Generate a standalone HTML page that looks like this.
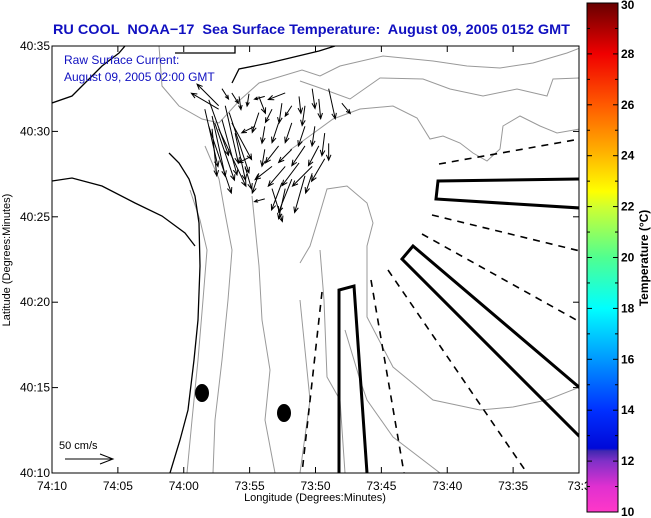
<!DOCTYPE html>
<html><head><meta charset="utf-8"><style>
html,body{margin:0;padding:0;background:#fff;}
svg{display:block;font-family:"Liberation Sans",Arial,sans-serif;}
</style></head><body>
<svg id="chart" width="651" height="518" viewBox="0 0 651 518" xmlns="http://www.w3.org/2000/svg">
<defs>
<linearGradient id="cb" x1="0" y1="1" x2="0" y2="0">
<stop offset="0" stop-color="#ff38c8"/><stop offset="0.05" stop-color="#e030d0"/><stop offset="0.1" stop-color="#8030c8"/><stop offset="0.12" stop-color="#4028b0"/><stop offset="0.125" stop-color="#0008d8"/>
<stop offset="0.2" stop-color="#0030ff"/><stop offset="0.3" stop-color="#0098ff"/><stop offset="0.4" stop-color="#00ffff"/><stop offset="0.5" stop-color="#50ff90"/>
<stop offset="0.6" stop-color="#d0ff30"/><stop offset="0.63" stop-color="#ffff00"/><stop offset="0.7" stop-color="#ffb800"/><stop offset="0.8" stop-color="#ff5a00"/>
<stop offset="0.9" stop-color="#f00000"/><stop offset="1" stop-color="#680000"/>
</linearGradient>
<clipPath id="pc"><rect x="52" y="46" width="527" height="427"/></clipPath>
</defs>
<text x="53" y="34" textLength="517" lengthAdjust="spacingAndGlyphs" font-size="14" font-weight="bold" fill="#1010c0" style="white-space:pre">RU COOL  NOAA−17  Sea Surface Temperature:  August 09, 2005 0152 GMT</text>
<g id="map" clip-path="url(#pc)">
<g fill="none" stroke="#999" stroke-width="1">
<path d="M159,46 L162,86 L179,106 L202,119 L219,123 L240,100 L259,83 L302,70 L320,76 L340,66 L383,56 L433,61 L467,66 L500,68 L533,63 L567,53 L580,48"/>
<path d="M300,81 L320,88 L350,99 L380,78 L423,79 L450,89 L483,96 L517,89 L547,96 L553,79 L580,78"/>
<path d="M290,150 L300,143 L333,119 L360,109 L393,106 L417,118 L430,139 L443,136 L460,143 L473,153 L487,161 L500,149 L503,126 L520,116 L540,126 L557,133 L580,129"/>
<path d="M300,263 L310,246 L317,223 L327,189 L347,186 L367,203 L373,223 L367,246 L367,317 L393,367 L433,400 L480,410 L513,407 L547,400 L580,387"/>
<path d="M320,250 L324,300 L327,377 L340,400 L345,473"/>
<path d="M345,330 L360,380 L367,400 L393,437 L440,473"/>
<path d="M205,146 L219,179 L225,213 L232,250 L228,300 L222,360 L215,420 L213,473"/>
<path d="M190,190 L200,220 L207,250 L203,300 L198,360 L192,420 L187,473"/>
<path d="M252,196 L259,266 L262,320 L270,370 L265,420 L275,473"/>
<path d="M300,300 L305,350 L310,400 L300,473"/>
</g>
<g fill="none" stroke="#000" stroke-width="1.3">
<path d="M52,103 L72,96 L85,83 L102,66 L119,53 L125,46"/>
<path d="M52,181 L72,178 L102,186 L135,203 L162,216 L185,233 L195,246"/>
<path d="M169,153 L179,163 L189,179 L195,196 L199,223 L200,266 L198,320 L194,360 L188,410 L180,440 L170,473"/>
<path d="M232,83 L239,69 L269,63 L319,51 L335,46"/>
<path d="M175,53 L235,53 L235,46"/>
</g>
<g fill="none" stroke="#000" stroke-width="3">
<path d="M339,473 L339,290 L354,286 L367,473"/>
<path d="M580,179 L438,181 L436,199 L580,208"/>
<path d="M580,388 L413,246 L402,259 L580,437"/>
</g>
<g fill="none" stroke="#000" stroke-width="1.6" stroke-dasharray="7,6">
<path d="M439,164 L580,139"/><path d="M432,215 L580,251"/><path d="M422,234 L580,322"/>
<path d="M388,270 L527,473"/><path d="M371,280 L404,473"/><path d="M322,292 L302,473"/>
</g>
<ellipse cx="202" cy="393" rx="7" ry="9"/>
<ellipse cx="284" cy="413" rx="7" ry="9"/>
<g id="arrows" stroke="#000" stroke-width="1" fill="none"></g>
<text x="64" y="64" font-size="12" fill="#1010c0">Raw Surface Current:</text>
<text x="64" y="81" font-size="12" fill="#1010c0">August 09, 2005 02:00 GMT</text>
<text x="59" y="449" font-size="11">50 cm/s</text>
<g stroke="#000" fill="none"><path d="M65,459 L113,459 M100,454 L113,459 L100,464"/></g>
</g>
<rect x="52" y="46" width="527" height="427" fill="none" stroke="#000" stroke-width="1"/>
<g id="axes" font-size="12"></g>
<text x="315" y="501" text-anchor="middle" font-size="11">Longitude (Degrees:Minutes)</text>
<text transform="translate(10,260) rotate(-90)" text-anchor="middle" font-size="11">Latitude (Degrees:Minutes)</text>
<rect x="587" y="3" width="31" height="509" fill="url(#cb)" stroke="#000" stroke-width="1"/>
<g id="cbaxis" font-size="12" font-weight="bold"></g>
<text transform="translate(648,258) rotate(-90)" text-anchor="middle" font-size="12" font-weight="bold">Temperature (°C)</text>
</svg>
<script>
// current vectors: longitude in minutes west of 74°00' (negative = east), latitude in minutes north of 40°00', u/v in cm/s
const vecLonMin=[-2.65,-2.65,-1.6,-2.15,-2.35,-2.65,-3.15,-3.45,-2.15,-3.65,-3.9,-2.9,-3.65,-4.2,-4.95,-5.7,-6.15,-7.7,-8.75,-9.75,-11,-12,-5.7,-6.7,-7.45,-8.2,-9.2,-10.25,-6.15,-7.2,-8.2,-9.2,-9.95,-10.7,-5.4,-6.15,-7.2,-8.2,-9.2,-10.25,-11,-5.15,-6.7,-7.7,-8.75,-9.75,-10.7,-5.7,-7.45,-8.2,-9.2,-9.75,-6.7,-7.7,-6.15,-4.65,-1.9,-2.9,-1.9];
const vecLatMin=[31.3,31.5,31.3,30.9,30.5,30.15,31.5,31.1,30.15,30.5,29.9,32.5,32.25,32.05,32.2,32.05,32.05,32.25,32.05,32.5,32.5,31.65,31.1,31.3,31.65,31.5,31.5,31.9,30.3,30.5,30.5,30.3,30.3,29.9,30.3,28.95,29.15,28.95,29.15,29.15,29.3,28.55,27.95,27.95,28.15,27.95,28.4,27.55,27,27.2,27.4,27.55,26.65,26.65,26.05,27.95,30.3,30.7,31.85];
const vecU=[-29,-23,14,14,21,29,14,21,5,21,11,7,7,2,-2,7,-11,-18,2,3,7,9,-7,-7,-3,-7,-3,2,-3,-7,-7,-7,-3,-3,-14,-3,-14,-14,-14,-11,0,-14,-18,-18,-18,-21,-14,-7,-11,-14,-11,-7,11,-7,-11,7,24,16,21];
const vecV=[17,23,-61,-64,-61,-61,-61,-64,-50,-39,-50,-11,-11,-14,-13,-18,-3,-7,-18,-21,-32,-11,-21,-14,-21,-11,-21,-21,-18,-21,-21,-21,-21,-24,-7,-18,-18,-14,-21,-21,-18,-7,-14,-21,-24,-21,-24,-21,-29,-35,-39,-21,-35,-32,-3,-24,-71,-59,-59];
const lonTicks=[10,5,0,-5,-10,-15,-20,-25,-30];
const lonTickLabels=["74:10","74:05","74:00","73:55","73:50","73:45","73:40","73:35","73:3"];
const latTicks=[35,30,25,20,15,10];
const latTickLabels=["40:35","40:30","40:25","40:20","40:15","40:10"];
const cbTicks=[10,12,14,16,18,20,22,24,26,28,30];

const NS='http://www.w3.org/2000/svg';
const X0=52,X1=579,Y0=46,Y1=473;
function xOf(minW){return X0+(10-minW)/40*(X1-X0);}
function yOf(latMin){return Y1-(latMin-10)/25*(Y1-Y0);}
const pxPerCm=47/50;
function cbY(t){return 512-(t-10)/20*509;}
function mk(tag,attrs,parent){const e=document.createElementNS(NS,tag);for(const k in attrs)e.setAttribute(k,attrs[k]);parent.appendChild(e);return e;}

const ag=document.getElementById('arrows');
for(let i=0;i<vecLonMin.length;i++){
  const x=xOf(vecLonMin[i]),y=yOf(vecLatMin[i]);
  const dx=vecU[i]*pxPerCm,dy=-vecV[i]*pxPerCm;
  const L=Math.hypot(dx,dy)||1,a=Math.atan2(dy,dx),h=Math.min(6,L*0.35);
  const x2=x+dx,y2=y+dy;
  const d=`M${x},${y} L${x2},${y2} M${x2-h*Math.cos(a-0.4)},${y2-h*Math.sin(a-0.4)} L${x2},${y2} L${x2-h*Math.cos(a+0.4)},${y2-h*Math.sin(a+0.4)}`;
  const p=mk('path',{d:d},ag);
  
  
}
const ax=document.getElementById('axes');
lonTicks.forEach((m,i)=>{
  const x=xOf(m);
  const t=mk('line',{x1:x,x2:x,y1:Y1,y2:Y1-6,stroke:'#000'},ax);
  
  
  const t2=mk('line',{x1:x,x2:x,y1:Y0,y2:Y0+6,stroke:'#000'},ax);
  
  
  const tx=mk('text',{x:x,y:490,'text-anchor':'middle'},ax);
  tx.textContent=lonTickLabels[i];
  
  
});
latTicks.forEach((m,i)=>{
  const y=yOf(m);
  const t=mk('line',{x1:X0,x2:X0+6,y1:y,y2:y,stroke:'#000'},ax);
  
  
  const t2=mk('line',{x1:X1,x2:X1-6,y1:y,y2:y,stroke:'#000'},ax);
  
  
  const tx=mk('text',{x:X0-2,y:y+4,'text-anchor':'end'},ax);
  tx.textContent=latTickLabels[i];
  
  
});
const cg=document.getElementById('cbaxis');
for(let t=10;t<=30;t+=1){
  const y=cbY(t),len=(t%2===0)?5:3;
  const a=mk('line',{x1:587,x2:587+len,y1:y,y2:y,stroke:'#000'},cg);
  
  
  const b=mk('line',{x1:618,x2:618-len,y1:y,y2:y,stroke:'#000'},cg);
  
  
}
cbTicks.forEach(t=>{
  const tx=mk('text',{x:621,y:Math.min(516,Math.max(9,cbY(t)+4))},cg);
  tx.textContent=String(t);
  
  
});
</script>
</body></html>
